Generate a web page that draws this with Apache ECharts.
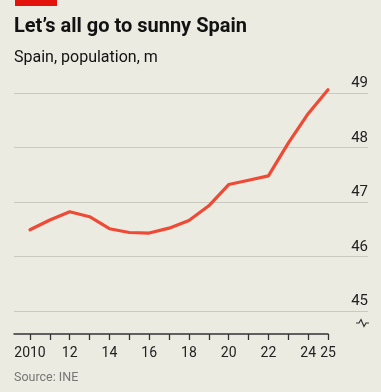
<!DOCTYPE html>
<html>
<head>
<meta charset="utf-8">
<script src="https://cdn.jsdelivr.net/npm/echarts@6/dist/echarts.min.js"></script>
<style>
html,body{margin:0;padding:0;background:#ecebe2;}
#c{width:381px;height:392px;}
</style>
</head>
<body>
<div id="c"></div>
<script>
const years = [2010,2011,2012,2013,2014,2015,2016,2017,2018,2019,2020,2021,2022,2023,2024,2025];
const population = [46.49,46.67,46.82,46.73,46.51,46.44,46.43,46.52,46.66,46.93,47.32,47.40,47.48,48.08,48.62,49.06];
const xLabelValues = [2010,2012,2014,2016,2018,2020,2022,2024,2025];
const xLabelTexts = ['2010','12','14','16','18','20','22','24','25'];
const yTicks = [45,46,47,48,49];

const FONT = 'Roboto, "Noto Sans", sans-serif';
const chart = echarts.init(document.getElementById('c'), null, {renderer:'canvas'});
const xMin = 2010 - 16/19.867;
const xMaxFull = 2025 + 40/19.867;

chart.setOption({
  backgroundColor:'#ecebe2',
  animation:false,
  title:[
    {text:'Let\u2019s all go to sunny Spain', left:14, top:17, padding:0,
     textStyle:{fontFamily:FONT, fontSize:20, fontWeight:'bold', color:'#121212'}},
    {text:'Spain, population, m', left:14, top:50, padding:0,
     textStyle:{fontFamily:FONT, fontSize:16, fontWeight:'normal', color:'#121212'}},
    {text:'Source: INE', left:14, top:371, padding:0,
     textStyle:{fontFamily:FONT, fontSize:12.5, fontWeight:'normal', color:'#767676'}}
  ],
  graphic:[
    {type:'rect', shape:{x:15,y:0,width:42,height:6}, style:{fill:'#e3120b'}},
    {type:'polyline', shape:{points:[[356,323],[359,323],[361,319.5],[364,326.5],[366,323],[369,323]]},
     style:{stroke:'#333', lineWidth:1.2, fill:null}}
  ],
  grid:[
    {left:14, right:13, top:93, bottom:81},
    {left:14, right:53, top:93, bottom:58}
  ],
  xAxis:[
    {gridIndex:0, type:'value', min:xMin, max:xMaxFull, show:false},
    {gridIndex:1, type:'value', min:xMin, max:2025,
     axisLine:{show:true, lineStyle:{color:'#333', width:1.5}},
     axisTick:{show:true, customValues:years, length:6, lineStyle:{color:'#333', width:1.3}},
     axisLabel:{customValues:xLabelValues, margin:12, fontFamily:FONT, fontSize:14, color:'#222',
       formatter:function(v){const i = xLabelValues.indexOf(Math.round(v)); return i>=0 ? xLabelTexts[i] : '';}},
     splitLine:{show:false}}
  ],
  yAxis:[
    {gridIndex:0, type:'value', min:45, max:49, interval:1, position:'right',
     axisLine:{show:false}, axisTick:{show:false},
     axisLabel:{inside:true, margin:0, verticalAlign:'bottom', padding:[0,0,2,0],
       fontFamily:FONT, fontSize:15, color:'#222',
       formatter:function(v){return yTicks.indexOf(v)>=0 ? String(v) : '';}},
     splitLine:{show:true, lineStyle:{color:'#cbcac1', width:1}}},
    {gridIndex:1, type:'value', min:0, max:1, show:false}
  ],
  series:[{
    type:'line', xAxisIndex:0, yAxisIndex:0,
    data: years.map((y,i)=>[y, population[i]]),
    showSymbol:false, clip:false, smooth:false,
    lineStyle:{color:'#ee4a36', width:3.2, cap:'round', join:'round'},
    z:5
  }]
});
</script>
</body>
</html>
